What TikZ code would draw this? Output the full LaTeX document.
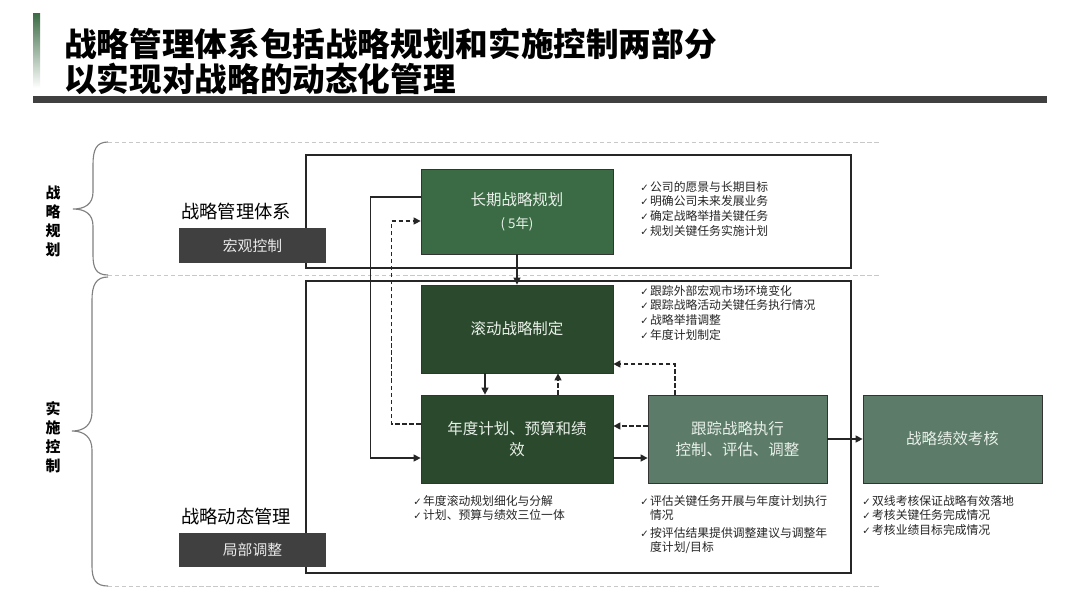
\documentclass[tikz,border=0pt]{standalone}
\usepackage{fontspec}
\setmainfont{Noto Sans CJK SC}
\newfontfamily\symf{DejaVu Sans}
\usetikzlibrary{arrows.meta}
\definecolor{gLong}{HTML}{3B6B45}
\definecolor{gDark}{HTML}{2B4A2D}
\definecolor{gGray}{HTML}{5C7B69}
\definecolor{darkbox}{HTML}{404040}
\definecolor{sepgray}{HTML}{C8C8C8}
\definecolor{bracegray}{HTML}{808080}
\definecolor{linec}{HTML}{262626}
\definecolor{ntext}{HTML}{E8F0E8}
\newcommand\ck{\makebox[7pt][l]{{\symf\fontsize{7.2}{7.2}\selectfont ✓}}}
\newcommand\cont{\hspace*{7pt}}
\tikzset{
  flowbox/.style={draw=black!80, line width=0.5pt, text=ntext, align=center,
    font=\fontsize{11}{14.5}\selectfont, inner sep=2pt},
  longbox/.style={flowbox, fill=gLong, minimum width=4.8cm, minimum height=2.125cm},
  darkgreen/.style={flowbox, fill=gDark, minimum width=4.8cm, minimum height=2.2cm},
  graygreen/.style={flowbox, fill=gGray, minimum width=4.475cm, minimum height=2.2cm},
  tagbox/.style={fill=darkbox, text=white!92!black, minimum width=3.675cm, minimum height=0.86cm,
    font=\fontsize{10.5}{12}\selectfont, inner sep=0pt},
  bullets/.style={anchor=north west, inner sep=0pt, align=left, text=black!85,
    font=\fontsize{8.4}{10.4}\selectfont},
  frame/.style={draw=linec, line width=1pt},
  sep/.style={draw=sepgray, line width=0.6pt, dash pattern=on 3pt off 2pt},
  bracestyle/.style={draw=bracegray, line width=0.8pt},
  solidarrow/.style={draw=linec, line width=0.9pt, -{Triangle[length=5pt,width=5pt]}},
  dasharrow/.style={draw=linec, line width=0.9pt, dash pattern=on 3pt off 2pt, -{Triangle[length=5pt,width=5pt]}},
  sidelabel/.style={align=center, font=\fontsize{10.6}{13.5}\selectfont\bfseries, inner sep=0pt},
  grouplabel/.style={anchor=west, font=\fontsize{13}{15}\selectfont, inner sep=0pt}
}
\begin{document}
\begin{tikzpicture}[x=0.025cm,y=-0.025cm]
\useasboundingbox (0,0) rectangle (1080,608);
\fill[white] (0,0) rectangle (1080,608);
% title
\shade[top color=gLong, bottom color=white] (33,13) rectangle (40,88);
\node[anchor=west, inner sep=0pt, font=\fontsize{23.2}{26}\selectfont\bfseries] (t1) at (64,44) {战略管理体系包括战略规划和实施控制两部分};
\node[anchor=west, inner sep=0pt, font=\fontsize{23.2}{26}\selectfont\bfseries] (t2) at (64,79) {以实现对战略的动态化管理};
\fill[darkbox] (33,96) rectangle (1047,103);
% separators
\draw[sep] (108,142) -- (880,142);
\draw[sep] (108,275) -- (880,275);
\draw[sep] (108,586) -- (880,586);
% braces
\draw[bracestyle] (108,142) .. controls (96,142) and (93,150) .. (93,165) -- (93,192)
  .. controls (93,204) and (85,209) .. (73,209) .. controls (85,209) and (93,214) .. (93,226)
  -- (93,255) .. controls (93,268) and (96,275) .. (108,275);
\draw[bracestyle] (108,277) .. controls (96,277) and (92,285) .. (92,300) -- (92,412)
  .. controls (92,425) and (84,431) .. (72,431) .. controls (84,431) and (92,437) .. (92,450)
  -- (92,566) .. controls (92,580) and (96,586) .. (108,586);
\node[sidelabel] (lab1) at (53,221.5) {战\\略\\规\\划};
\node[sidelabel] (lab2) at (53,437.5) {实\\施\\控\\制};
% frames
\draw[frame] (306,155) rectangle (851,268);
\draw[frame] (306,281) rectangle (851,573);
% left tags
\node[grouplabel] (g1) at (181,212) {战略管理体系};
\node[tagbox] (tag1) at (252.5,245.5) {宏观控制};
\node[grouplabel] (g2) at (181,517) {战略动态管理};
\node[tagbox] (tag2) at (252.5,550) {局部调整};
% flow boxes
\node[longbox] (A) at (517,211.5) {长期战略规划\\[2pt]{\fontsize{9.5}{11}\selectfont ( 5年)}};
\node[darkgreen] (B) at (517,329) {滚动战略制定};
\node[darkgreen] (C) at (517,439) {年度计划、预算和绩\\效};
\node[graygreen] (D) at (737.5,439) {跟踪战略执行\\控制、评估、调整};
\node[graygreen] (E) at (952.5,439) {战略绩效考核};
% bullets
\node[bullets] (b1) at (640,181) {\ck 公司的愿景与长期目标\\\ck 明确公司未来发展业务\\\ck 确定战略举措关键任务\\\ck 规划关键任务实施计划};
\node[bullets] (b2) at (640,285) {\ck 跟踪外部宏观市场环境变化\\\ck 跟踪战略活动关键任务执行情况\\\ck 战略举措调整\\\ck 年度计划制定};
\node[bullets] (b3) at (413,495) {\ck 年度滚动规划细化与分解\\\ck 计划、预算与绩效三位一体};
\node[bullets] (b4) at (640,495) {\ck 评估关键任务开展与年度计划执行\\\cont 情况\\[2pt]\ck 按评估结果提供调整建议与调整年\\\cont 度计划/目标};
\node[bullets] (b5) at (862,495) {\ck 双线考核保证战略有效落地\\\ck 考核关键任务完成情况\\\ck 考核业绩目标完成情况};
% connectors
\draw[solidarrow] (A.south) -- (B.north);
\draw[solidarrow] ([yshift=0.3625cm]A.west) -- ++(-50,0) |- ([yshift=-0.475cm]C.west);
\draw[dasharrow] ([yshift=0.375cm]C.west) -- ++(-29,0) |- ([yshift=-0.2375cm]A.west);
\draw[solidarrow] ([xshift=-0.8cm]B.south) -- ([xshift=-0.8cm]C.north);
\draw[dasharrow] ([xshift=1.025cm]C.north) -- ([xshift=1.025cm]B.south);
\draw[dasharrow] ([xshift=-1.5625cm]D.north) |- ([yshift=-0.875cm]B.east);
\draw[dasharrow] ([yshift=0.325cm]D.west) -- ([yshift=0.325cm]C.east);
\draw[solidarrow] ([yshift=-0.475cm]C.east) -- ([yshift=-0.475cm]D.west);
\draw[solidarrow] (D.east) -- (E.west);
\end{tikzpicture}
\end{document}
